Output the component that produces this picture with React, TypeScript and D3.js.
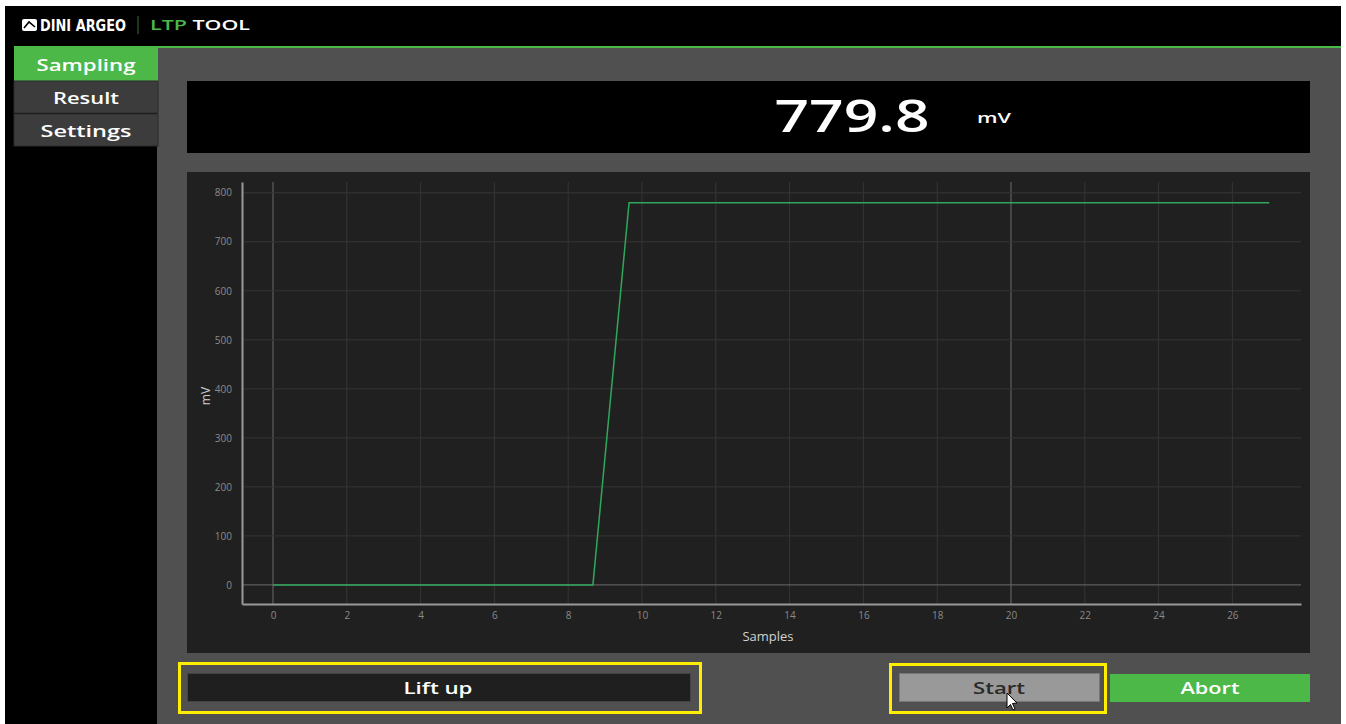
import { useEffect, useRef } from "react";
import * as d3 from "d3";

// samples (x in samples, y in mV)
const sampleX = [0, 8.67, 9.65, 27];
const sampleMv = [0, 0, 779.8, 779.8];

const xTicks = [0, 2, 4, 6, 8, 10, 12, 14, 16, 18, 20, 22, 24, 26];
const yTicks = [0, 100, 200, 300, 400, 500, 600, 700, 800];
const majorX = [0, 20];

const tabs = ["Sampling", "Result", "Settings"];
const tabWidths = [99, 66, 91];
const readout = "779.8";
const readoutUnit = "mV";

const GREEN = "#4cb848";
const FONT = "'Open Sans', 'DejaVu Sans', sans-serif";

export default function App() {
  const ref = useRef<SVGSVGElement>(null);

  useEffect(() => {
    const svg = d3.select(ref.current);
    svg.selectAll("*").remove();

    const wideText = (x: number, y: number, size: number, len: number, fill: string, t: string) =>
      svg.append("text").attr("x", x).attr("y", y).attr("text-anchor", "middle").attr("fill", fill)
        .attr("font-family", FONT).attr("font-size", size).attr("font-weight", 600)
        .attr("textLength", len).attr("lengthAdjust", "spacingAndGlyphs").text(t);

    // frame
    svg.append("rect").attr("width", 1346).attr("height", 724).attr("fill", "#ffffff");
    svg.append("rect").attr("x", 5).attr("y", 6).attr("width", 1336).attr("height", 718).attr("fill", "#000");

    // title bar
    const logo = svg.append("g").attr("transform", "translate(22,19)");
    logo.append("rect").attr("width", 15).attr("height", 12).attr("rx", 2).attr("fill", "#fff");
    logo.append("path").attr("d", "M2,9 L7,3 L13,8").attr("fill", "none").attr("stroke", "#000").attr("stroke-width", 1.6);
    svg.append("text").attr("x", 40).attr("y", 31).attr("fill", "#fff")
      .attr("font-family", "'Liberation Sans Narrow', 'DejaVu Sans Condensed', sans-serif")
      .attr("font-weight", "bold").attr("font-size", 16).attr("textLength", 86)
      .attr("lengthAdjust", "spacingAndGlyphs").text("DINI ARGEO");
    svg.append("line").attr("x1", 138).attr("x2", 138).attr("y1", 16).attr("y2", 34).attr("stroke", "#3d6b3a");
    const ltp = svg.append("text").attr("x", 150).attr("y", 30).attr("font-family", FONT)
      .attr("font-size", 14).attr("font-weight", 600).attr("textLength", 100)
      .attr("lengthAdjust", "spacingAndGlyphs");
    ltp.append("tspan").attr("fill", GREEN).text("LTP ");
    ltp.append("tspan").attr("fill", "#fff").text("TOOL");

    // green rule under title bar
    svg.append("rect").attr("x", 14).attr("y", 46).attr("width", 1327).attr("height", 2).attr("fill", GREEN);

    // main grey area
    svg.append("rect").attr("x", 157).attr("y", 48).attr("width", 1184).attr("height", 676).attr("fill", "#505050");

    // side tabs
    tabs.forEach((t, i) => {
      const y = 48 + i * 33;
      svg.append("rect").attr("x", 14).attr("y", y).attr("width", 144).attr("height", i === 0 ? 34 : 32)
        .attr("fill", i === 0 ? GREEN : "#3c3c3c").attr("stroke", i === 0 ? "none" : "#2a2a2a");
      wideText(86, y + 23, 17, tabWidths[i], "#fff", t);
    });

    // readout box
    svg.append("rect").attr("x", 187).attr("y", 81).attr("width", 1123).attr("height", 72).attr("fill", "#000");
    wideText(852, 132, 46, 155, "#fff", readout);
    wideText(994, 123, 14, 34, "#fff", readoutUnit);

    // chart panel
    svg.append("rect").attr("x", 187).attr("y", 172).attr("width", 1123).attr("height", 481).attr("fill", "#202020");

    const left = 242, right = 1301, top = 182, bottom = 604;
    const x = d3.scaleLinear().domain([-0.84, 27.86]).range([left, right]);
    const y = d3.scaleLinear().domain([-39, 822]).range([bottom, top]);

    const chart = svg.append("g");

    // grid
    chart.selectAll("line.vg").data(xTicks).join("line").attr("class", "vg")
      .attr("x1", (d) => x(d)).attr("x2", (d) => x(d)).attr("y1", top).attr("y2", bottom)
      .attr("stroke", (d) => (majorX.includes(d) ? "#6a6a6a" : "#353535")).attr("stroke-width", 1);
    chart.selectAll("line.hg").data(yTicks).join("line").attr("class", "hg")
      .attr("x1", left).attr("x2", right).attr("y1", (d) => y(d)).attr("y2", (d) => y(d))
      .attr("stroke", (d) => (d === 0 ? "#6a6a6a" : "#353535")).attr("stroke-width", 1);

    // axes
    const xAxis = chart.append("g").attr("transform", `translate(0,${bottom})`)
      .call(d3.axisBottom(x).tickValues(xTicks).tickSize(0).tickPadding(8));
    const yAxis = chart.append("g").attr("transform", `translate(${left},0)`)
      .call(d3.axisLeft(y).tickValues(yTicks).tickSize(0).tickPadding(10));
    [xAxis, yAxis].forEach((a) => {
      a.select(".domain").attr("stroke", "#9a9a9a").attr("stroke-width", 2);
      a.selectAll("text").attr("fill", "#8a8a8a").attr("font-family", FONT).attr("font-size", 10);
    });

    chart.append("text").attr("x", 768).attr("y", 641).attr("text-anchor", "middle")
      .attr("fill", "#d0d0d0").attr("font-family", FONT).attr("font-size", 13).text("Samples");
    chart.append("text").attr("transform", "translate(210,396) rotate(-90)").attr("text-anchor", "middle")
      .attr("fill", "#d0d0d0").attr("font-family", FONT).attr("font-size", 12).text("mV");

    // trace
    const pts = sampleX.map((v, i) => [v, sampleMv[i]] as [number, number]);
    chart.append("path").datum(pts).attr("fill", "none").attr("stroke", "#2ea85a").attr("stroke-width", 1.5)
      .attr("d", d3.line<[number, number]>().x((d) => x(d[0])).y((d) => y(d[1])));

    // bottom buttons
    svg.append("rect").attr("x", 179.5).attr("y", 663.5).attr("width", 521).attr("height", 49)
      .attr("fill", "none").attr("stroke", "#ffee00").attr("stroke-width", 3);
    svg.append("rect").attr("x", 187.5).attr("y", 673.5).attr("width", 503).attr("height", 28)
      .attr("fill", "#1f1f1f").attr("stroke", "#444");
    wideText(438, 694, 16, 69, "#fff", "Lift up");

    svg.append("rect").attr("x", 890.5).attr("y", 664.5).attr("width", 215).attr("height", 48)
      .attr("fill", "none").attr("stroke", "#ffee00").attr("stroke-width", 3);
    svg.append("rect").attr("x", 899.5).attr("y", 673.5).attr("width", 200).attr("height", 28)
      .attr("fill", "#999").attr("stroke", "#777");
    wideText(999, 694, 16, 52, "#2a2a2a", "Start");

    svg.append("rect").attr("x", 1110).attr("y", 674).attr("width", 200).attr("height", 28).attr("fill", GREEN);
    wideText(1210, 694, 16, 59, "#fff", "Abort");

    // mouse pointer
    svg.append("path").attr("d", "M1007,693 L1007,708 L1010.5,704.5 L1013,710 L1015,709 L1012.5,703.5 L1017,703 Z")
      .attr("fill", "#fff").attr("stroke", "#000").attr("stroke-width", 1);
  }, []);

  return (
    <svg ref={ref} width={1346} height={724} style={{ position: "absolute", left: 0, top: 0 }} />
  );
}
